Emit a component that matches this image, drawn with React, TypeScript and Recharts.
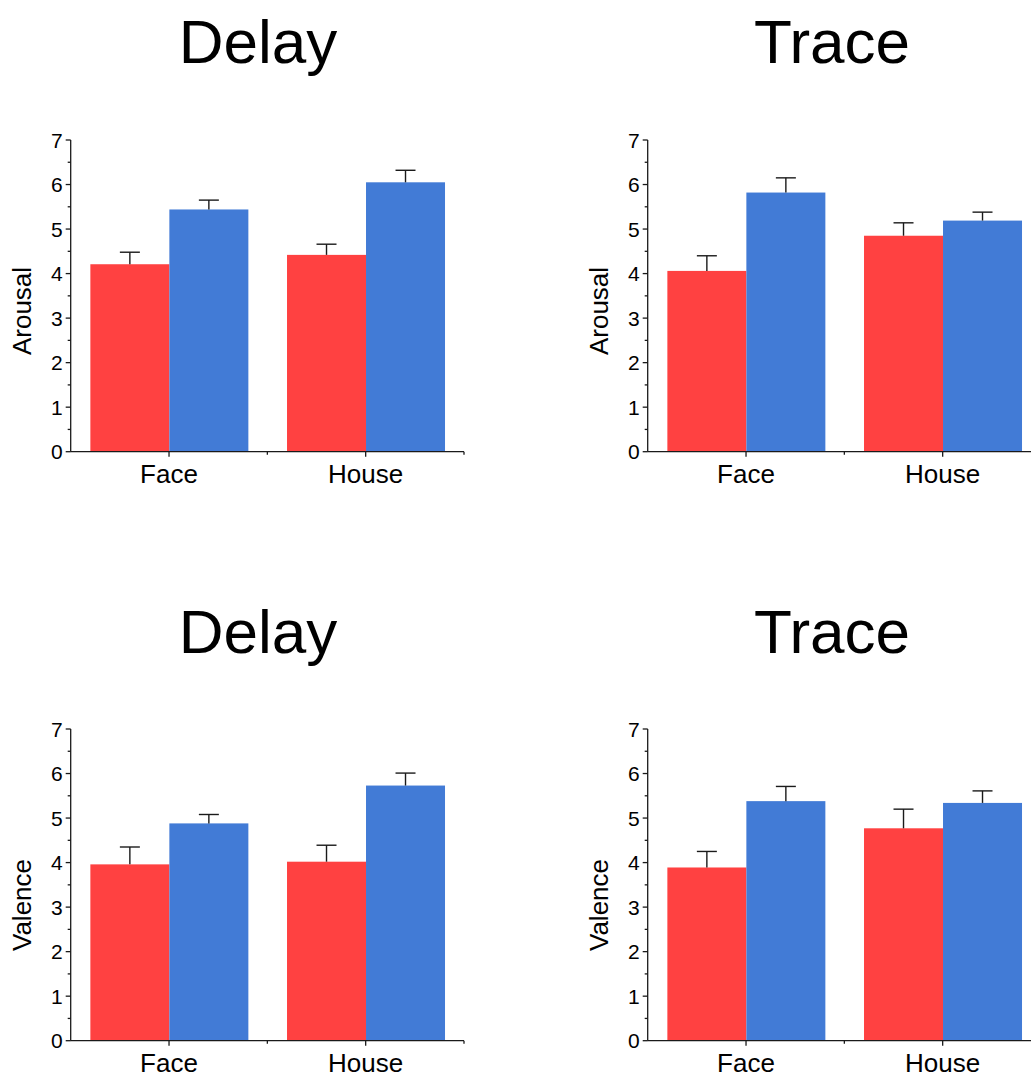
import { BarChart, Bar, XAxis, YAxis } from 'recharts';

const categories = ['Face', 'House'];
const yTicks = [0, 0.5, 1, 1.5, 2, 2.5, 3, 3.5, 4, 4.5, 5, 5.5, 6, 6.5, 7];

// red / blue bar means and their upper error (SEM)
const delayArousalRed = [4.21, 4.42];
const delayArousalRedErr = [0.27, 0.24];
const delayArousalBlue = [5.44, 6.05];
const delayArousalBlueErr = [0.21, 0.27];

const traceArousalRed = [4.06, 4.85];
const traceArousalRedErr = [0.34, 0.29];
const traceArousalBlue = [5.82, 5.19];
const traceArousalBlueErr = [0.33, 0.19];

const delayValenceRed = [3.96, 4.02];
const delayValenceRedErr = [0.39, 0.37];
const delayValenceBlue = [4.88, 5.73];
const delayValenceBlueErr = [0.2, 0.28];

const traceValenceRed = [3.89, 4.77];
const traceValenceRedErr = [0.36, 0.43];
const traceValenceBlue = [5.38, 5.34];
const traceValenceBlueErr = [0.33, 0.27];

const RED = '#ff4141';
const BLUE = '#427bd6';
const AXIS = '#1a1a1a';
const FONT = '"Liberation Sans", Arial, Helvetica, sans-serif';

function buildRows(red: number[], redErr: number[], blue: number[], blueErr: number[]) {
  return categories.map((name, i) => ({
    name,
    red: red[i],
    redErr: redErr[i],
    blue: blue[i],
    blueErr: blueErr[i],
  }));
}

// bar rect plus an upper-only error bar, scaled off the bar's own height
function barWithErr(valueKey: string, errKey: string) {
  return (props: any) => {
    const { x, y, width, height, fill, payload } = props;
    const v = payload[valueKey];
    const err = payload[errKey];
    const pxPerUnit = v ? height / v : 0;
    const top = y - err * pxPerUnit;
    const cx = x + width / 2;
    return (
      <g>
        <rect x={x} y={y} width={width} height={height} fill={fill} />
        <line x1={cx} x2={cx} y1={y} y2={top} stroke={AXIS} strokeWidth={1.4} />
        <line x1={cx - 10} x2={cx + 10} y1={top} y2={top} stroke={AXIS} strokeWidth={1.4} />
      </g>
    );
  };
}

function YTick(props: any) {
  const { x, y, payload } = props;
  const major = Number.isInteger(payload.value);
  return (
    <g>
      <line x1={x} x2={x - (major ? 5 : 3)} y1={y} y2={y} stroke={AXIS} strokeWidth={1.3} />
      {major && (
        <text x={x - 8} y={y} dy="0.36em" textAnchor="end" fontSize={21} fontFamily={FONT} fill="#000">
          {payload.value}
        </text>
      )}
    </g>
  );
}

function XTick(props: any) {
  const { x, y, payload } = props;
  const half = payload.offset ?? 98.3;
  return (
    <g>
      <line x1={x} x2={x} y1={y} y2={y + 5} stroke={AXIS} strokeWidth={1.3} />
      <line x1={x + half} x2={x + half} y1={y} y2={y + 3} stroke={AXIS} strokeWidth={1.3} />
      <text x={x} y={y + 31.6} textAnchor="middle" fontSize={26} fontFamily={FONT} fill="#000">
        {payload.value}
      </text>
    </g>
  );
}

function Panel({ rows, left, top }: { rows: any[]; left: number; top: number }) {
  return (
    <div style={{ position: 'absolute', left, top }}>
      <BarChart
        width={480}
        height={500}
        data={rows}
        margin={{ top: 140, right: 16, bottom: 8.3, left: 0 }}
        barCategoryGap="10%"
        barGap={0}
      >
        <XAxis
          dataKey="name"
          height={40}
          axisLine={{ stroke: AXIS, strokeWidth: 1.3 }}
          tickLine={false}
          tickSize={0}
          tickMargin={0}
          tick={<XTick />}
          interval={0}
        />
        <YAxis
          width={70.7}
          domain={[0, 7]}
          ticks={yTicks}
          interval={0}
          allowDecimals
          axisLine={{ stroke: AXIS, strokeWidth: 1.3 }}
          tickLine={false}
          tickSize={0}
          tickMargin={0}
          tick={<YTick />}
        />
        <Bar dataKey="red" fill={RED} isAnimationActive={false} shape={barWithErr('red', 'redErr')} />
        <Bar dataKey="blue" fill={BLUE} isAnimationActive={false} shape={barWithErr('blue', 'blueErr')} />
      </BarChart>
    </div>
  );
}

export default function App() {
  const dx = 577;
  const dy = 589;
  return (
    <div
      style={{
        position: 'absolute',
        left: 0,
        top: 0,
        width: 1031,
        height: 1076,
        overflow: 'hidden',
        background: '#fff',
        fontFamily: FONT,
      }}
    >
      <Panel rows={buildRows(delayArousalRed, delayArousalRedErr, delayArousalBlue, delayArousalBlueErr)} left={0} top={0} />
      <Panel rows={buildRows(traceArousalRed, traceArousalRedErr, traceArousalBlue, traceArousalBlueErr)} left={dx} top={0} />
      <Panel rows={buildRows(delayValenceRed, delayValenceRedErr, delayValenceBlue, delayValenceBlueErr)} left={0} top={dy} />
      <Panel rows={buildRows(traceValenceRed, traceValenceRedErr, traceValenceBlue, traceValenceBlueErr)} left={dx} top={dy} />

      <svg
        width={1031}
        height={1076}
        style={{ position: 'absolute', left: 0, top: 0, pointerEvents: 'none' }}
        fontFamily={FONT}
      >
        <text x={258} y={63.3} textAnchor="middle" fontSize={62} fill="#000">Delay</text>
        <text x={832} y={63.3} textAnchor="middle" fontSize={62} fill="#000">Trace</text>
        <text x={258} y={653.3} textAnchor="middle" fontSize={62} fill="#000">Delay</text>
        <text x={832} y={653.3} textAnchor="middle" fontSize={62} fill="#000">Trace</text>

        <text x={31} y={311} transform="rotate(-90 31 311)" textAnchor="middle" fontSize={26} fill="#000">Arousal</text>
        <text x={608} y={311} transform="rotate(-90 608 311)" textAnchor="middle" fontSize={26} fill="#000">Arousal</text>
        <text x={31} y={905} transform="rotate(-90 31 905)" textAnchor="middle" fontSize={26} fill="#000">Valence</text>
        <text x={608} y={905} transform="rotate(-90 608 905)" textAnchor="middle" fontSize={26} fill="#000">Valence</text>
      </svg>
    </div>
  );
}
